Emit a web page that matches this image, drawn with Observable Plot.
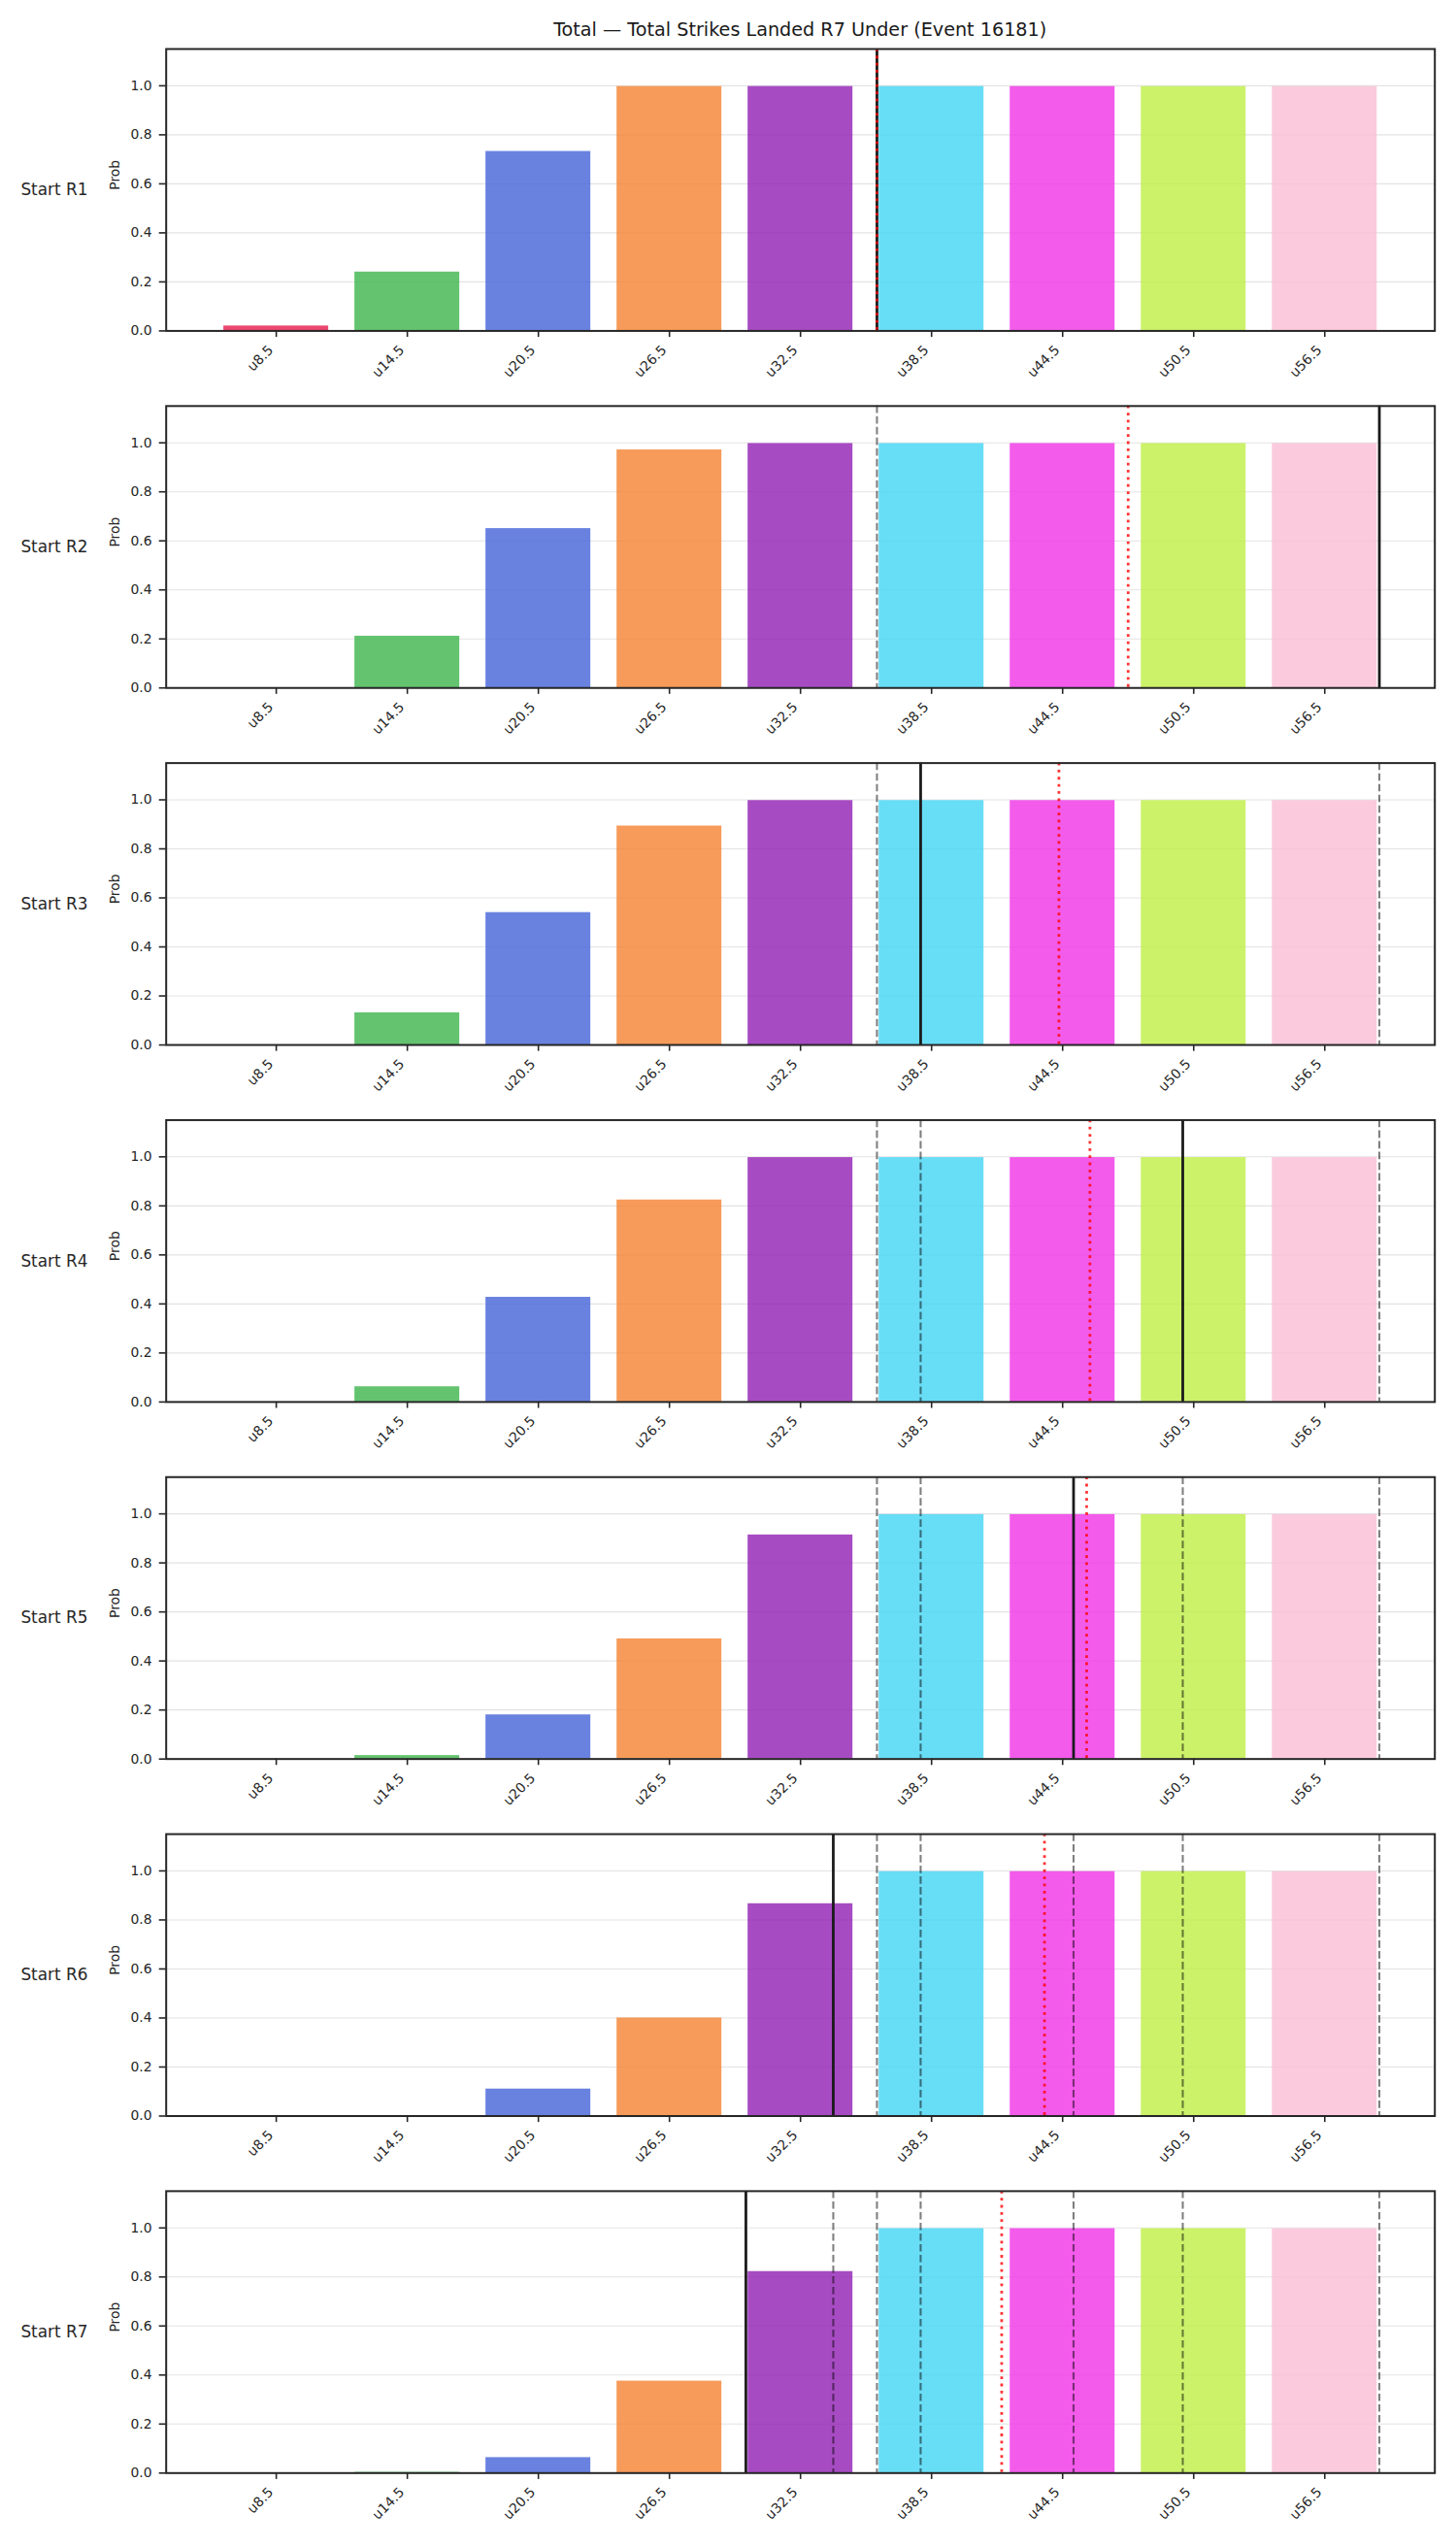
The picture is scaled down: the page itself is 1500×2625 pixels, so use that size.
<!DOCTYPE html>
<html>
<head>
<meta charset="utf-8">
<script src="https://cdn.jsdelivr.net/npm/d3@7"></script>
<script src="https://cdn.jsdelivr.net/npm/@observablehq/plot@0.6"></script>
<style>
  body { margin: 0; background: #fff; }
  #wrap { position: relative; width: 1500px; height: 2625px; font-family: "DejaVu Sans", sans-serif; }
  #chart { position: absolute; left: 0; top: 0; }
  #title { position: absolute; left: 74.2px; top: 20.6px; width: 1500px; text-align: center;
           font-size: 19.2px; line-height: 20px; color: #1a1a1a; white-space: nowrap; }
</style>
</head>
<body>
<div id="wrap">
  <div id="chart"></div>
  <div id="title">Total — Total Strikes Landed R7 Under (Event 16181)</div>
</div>
<script>
// Under-lines offered for total strikes landed, one bar per line
const thresholds = [8.5, 14.5, 20.5, 26.5, 32.5, 38.5, 44.5, 50.5, 56.5];
const tickLabels = ["u8.5", "u14.5", "u20.5", "u26.5", "u32.5", "u38.5", "u44.5", "u50.5", "u56.5"];
const rounds = ["Start R1", "Start R2", "Start R3", "Start R4", "Start R5", "Start R6", "Start R7"];

// Probability of the under for each line, at the start of each round
const probR1 = [0.02, 0.24, 0.732, 0.997, 0.997, 0.997, 0.997, 0.997, 0.997];
const probR2 = [0.0, 0.211, 0.65, 0.971, 0.997, 0.997, 0.997, 0.997, 0.997];
const probR3 = [0.0, 0.131, 0.54, 0.893, 0.997, 0.997, 0.997, 0.997, 0.997];
const probR4 = [0.0, 0.062, 0.427, 0.824, 0.997, 0.997, 0.997, 0.997, 0.997];
const probR5 = [0.0, 0.014, 0.18, 0.49, 0.914, 0.997, 0.997, 0.997, 0.997];
const probR6 = [0.0, 0.002, 0.11, 0.40, 0.866, 0.997, 0.997, 0.997, 0.997];
const probR7 = [0.0, 0.003, 0.063, 0.375, 0.822, 0.997, 0.997, 0.997, 0.997];
const probsByRound = [probR1, probR2, probR3, probR4, probR5, probR6, probR7];

// Strikes landed in each round (solid line; earlier rounds shown dashed)
const roundTotals = [36, 59, 38, 50, 45, 34, 30];
// Running average up to each round (red dotted line)
const runningAverage = [36, 47.5, 44.33, 45.75, 45.6, 43.67, 41.71];

const barColors = ["#e6194b", "#3cb44b", "#4363d8", "#f58231", "#911eb4",
                   "#42d4f4", "#f032e6", "#bfef45", "#fabed4"];
const yTicks = [0, 0.2, 0.4, 0.6, 0.8, 1.0];

// Tidy tables for the marks
const bars = rounds.flatMap((round, i) =>
  probsByRound[i].map((p, j) => ({round, t: thresholds[j], label: tickLabels[j], p, color: barColors[j]})));
const current = rounds.map((round, i) => ({round, v: roundTotals[i]}));
const earlier = rounds.flatMap((round, i) => roundTotals.slice(0, i).map(v => ({round, v})));
const average = rounds.map((round, i) => ({round, v: runningAverage[i]}));

const step = thresholds[1] - thresholds[0];
const halfBar = step * 0.4;      // bars take 80% of each slot
const xPad = step * 0.84;        // half a bar plus 5% margin on each side
const ink = "#262626";

const chart = Plot.plot({
  width: 1500,
  height: 2625,
  marginTop: 50,
  marginBottom: 77.7,
  marginLeft: 170.7,
  marginRight: 22.3,
  style: {fontFamily: "DejaVu Sans, sans-serif", color: ink, background: "#fff", overflow: "visible"},
  x: {type: "linear", domain: [thresholds[0] - xPad, thresholds[thresholds.length - 1] + xPad], axis: null},
  y: {domain: [0, 1.15], axis: null, label: null},
  fy: {domain: rounds, paddingInner: 0.2104, paddingOuter: 0, round: false, axis: null, label: null},
  color: {type: "identity"},
  marks: [
    Plot.gridY(yTicks, {stroke: "#e3e3e3", strokeOpacity: 1, strokeWidth: 1.1}),
    Plot.rect(bars, {
      x1: d => d.t - halfBar, x2: d => d.t + halfBar, y1: 0, y2: "p",
      fy: "round", fill: "color", fillOpacity: 0.8
    }),
    Plot.ruleX(earlier, {x: "v", fy: "round", stroke: "#000", strokeOpacity: 0.5, strokeWidth: 2.08, strokeDasharray: "7.7,3.3"}),
    Plot.ruleX(current, {x: "v", fy: "round", stroke: "#1a1a1a", strokeWidth: 2.78}),
    Plot.ruleX(average, {x: "v", fy: "round", stroke: "#ff0000", strokeOpacity: 0.8, strokeWidth: 2.78, strokeDasharray: "2.78,4.58"}),
    Plot.frame({stroke: ink, strokeWidth: 2}),
    // y axis in each panel
    Plot.axisY(yTicks, {
      tickSize: 7, tickPadding: 7.7, tickFormat: d => d.toFixed(1),
      fontSize: 13.9, stroke: ink, strokeWidth: 1.6, label: null, facetAnchor: null
    }),
    // x tick marks in each panel
    Plot.axisX(thresholds, {tickSize: 6.6, fill: "none", stroke: ink, strokeWidth: 1.6, label: null, facetAnchor: null}),
    // rotated x tick labels
    Plot.text(thresholds, {
      x: d => d, y: 0, text: (d, i) => tickLabels[i],
      rotate: -45, textAnchor: "end", lineAnchor: "bottom",
      dx: -2.3, dy: 20.5, fontSize: 13.9, fill: ink
    }),
    // y axis title in each panel
    Plot.text(["Prob"], {frameAnchor: "left", rotate: -90, lineAnchor: "bottom", dx: -48, fontSize: 13.9, fill: ink}),
    // panel row labels
    Plot.axisFy({anchor: "left", tickSize: 0, tickPadding: 80.7, fontSize: 16.9, label: null, fill: ink})
  ]
});

document.getElementById("chart").appendChild(chart);
</script>
</body>
</html>
